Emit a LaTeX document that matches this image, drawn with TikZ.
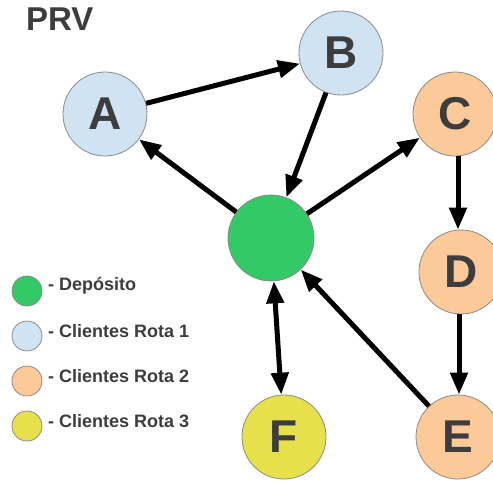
\documentclass[tikz,border=0pt]{standalone}
\usepackage{fontspec}
\setmainfont{Liberation Sans}
\usetikzlibrary{arrows.meta}
\definecolor{txt}{HTML}{3D3D3D}
\definecolor{rim}{HTML}{8A8A8A}
\definecolor{depot}{HTML}{34C967}
\definecolor{route1}{HTML}{CFE3F2}
\definecolor{route2}{HTML}{FBCA98}
\definecolor{route3}{HTML}{E6E14B}
\tikzset{
  stop/.style={circle, draw=rim, line width=0.8pt, minimum size=84pt, inner sep=0pt,
    font=\fontsize{46}{46}\selectfont\bfseries, text=txt},
  key/.style={circle, draw=rim, line width=0.8pt, minimum size=30pt, inner sep=0pt},
  keytext/.style={anchor=west, font=\fontsize{18}{18}\selectfont\bfseries, text=txt, inner sep=0pt},
  route/.style={line width=5pt, -{Triangle[length=22pt,width=17pt]}},
  both/.style={line width=5pt, {Triangle[length=22pt,width=17pt]}-{Triangle[length=22pt,width=17pt]}}
}
\begin{document}
\begin{tikzpicture}[x=1pt,y=-1pt]
  \useasboundingbox (0,0) rectangle (493,482);
  \clip (0,0) rectangle (493,482);
  \fill[white] (0,0) rectangle (493,482);

  \node[anchor=west, inner sep=0pt, text=txt, font=\fontsize{33}{33}\selectfont\bfseries] (title) at (26,19) {PRV};

  % route nodes
  \node[stop, fill=route1] (A) at (105,114) {A};
  \node[stop, fill=route1] (B) at (341,53) {B};
  \node[stop, fill=route2] (C) at (455,114) {C};
  \node[stop, fill=depot, minimum size=86pt] (O) at (271,238) {};
  \node[stop, fill=route2] (D) at (461,272) {D};
  \node[stop, fill=route2] (E) at (458,437) {E};
  \node[stop, fill=route3] (F) at (284,437) {F};

  % routes
  \draw[route] (A) -- (B);
  \draw[route] (B) -- (O);
  \draw[route] (O) -- (A);
  \draw[route] (O) -- (C);
  \draw[route] (C.south) ++(3,0) coordinate (c1) (C.south -| c1) -- (D.north -| c1);
  \draw[route] (D.south) ++(-2,0) coordinate (d1) (D.south -| d1) -- (E.north -| d1);
  \draw[route] (E) -- (O);
  \draw[both] (O) -- (F);

  % legend
  \node[key, fill=depot] (k0) at (27,291) {};
  \node[key, fill=route1] (k1) at (27,336) {};
  \node[key, fill=route2] (k2) at (27,381) {};
  \node[key, fill=route3] (k3) at (27,426) {};
  \node[keytext] (t0) at (48,286) {- Depósito};
  \node[keytext] (t1) at (48,331) {- Clientes Rota 1};
  \node[keytext] (t2) at (48,376) {- Clientes Rota 2};
  \node[keytext] (t3) at (48,421) {- Clientes Rota 3};
\end{tikzpicture}
\end{document}
